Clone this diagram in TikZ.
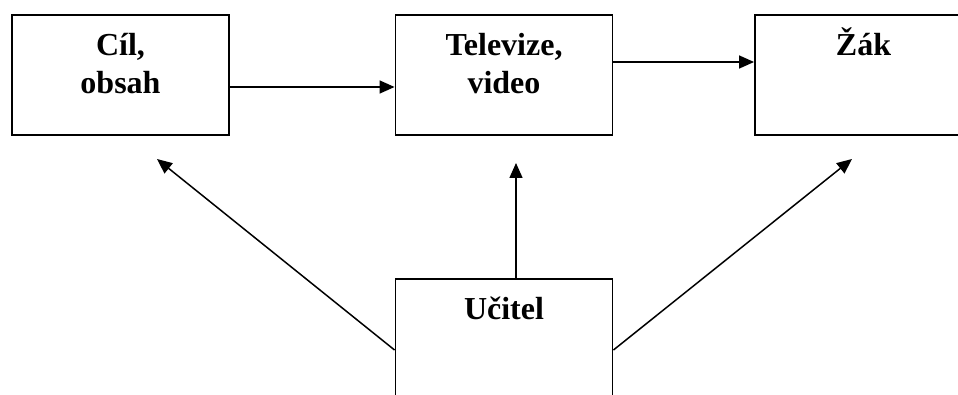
\documentclass[tikz,border=0pt]{standalone}
\usepackage{fontspec}
\setmainfont{Liberation Serif}
\usetikzlibrary{arrows.meta}

\begin{document}
\begin{tikzpicture}[x=1pt, y=1pt,
  box/.style={draw, line width=1.9pt, minimum width=217pt, minimum height=120pt, inner sep=0pt},
  txt/.style={font=\fontsize{32}{38}\selectfont\bfseries, align=center, anchor=base, inner sep=0pt},
  arr/.style={draw, line width=1.5pt, -{Triangle[length=15pt, width=13pt]}}]

\useasboundingbox (0,0) rectangle (958,394);

\def \top {319}
\def \one {41pt}   % first baseline below box top
\def \two {79pt}   % second baseline below box top

% Boxes
\node (cil) at (120.5, \top) [box] {};
\node (tv) at (504, \top) [box] {};
\node (zak) at (863.5, \top) [box] {};
\node (ucitel) at (504, 55) [box] {};

% Box texts (base = last line)
\node (cilText) at ([yshift=-\two]cil.north) [txt] {Cíl,\\obsah};
\node (tvText) at ([yshift=-\two]tv.north) [txt] {Televize,\\video};
\node (zakText) at ([yshift=-\one]zak.north) [txt] {Žák};
\node (ucitelText) at ([yshift=-\one]ucitel.north) [txt] {Učitel};

% Free ends of the teacher arrows
\coordinate (endLeft) at (157, 235);
\coordinate (endMid) at (516, 231);
\coordinate (endRight) at (852, 235);

% Top row
\draw [arr] ([yshift=-12pt]cil.east) -- ([yshift=-12pt]tv.west);
\draw [arr] ([yshift=13pt]tv.east) -- ([yshift=13pt]zak.west);

% From the teacher
\draw [arr] ([yshift=-11pt]ucitel.west) -- (endLeft);
\draw [arr] ([xshift=12pt]ucitel.north) -- (endMid);
\draw [arr] ([yshift=-11pt]ucitel.east) -- (endRight);

\end{tikzpicture}
\end{document}
